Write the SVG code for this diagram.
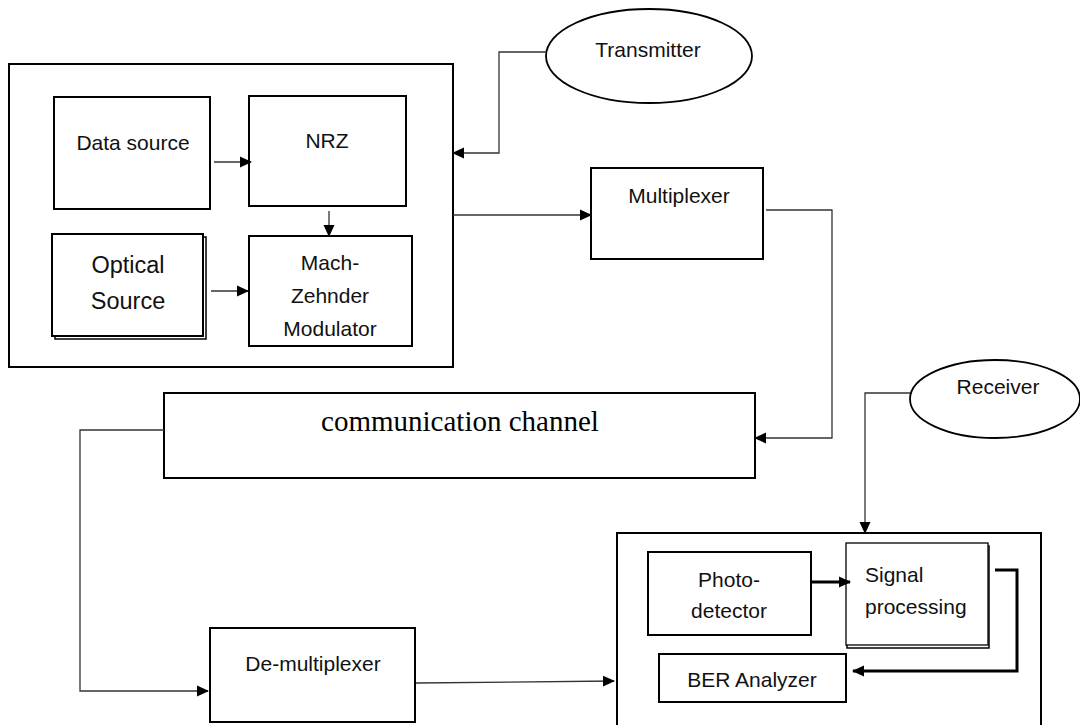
<svg xmlns="http://www.w3.org/2000/svg" width="1080" height="725" viewBox="0 0 1080 725">
<defs>
<marker id="arr" markerUnits="userSpaceOnUse" markerWidth="12" markerHeight="12" viewBox="0 0 12 12" refX="11" refY="6" orient="auto">
<path d="M0,0.5 L12,6 L0,11.5 Z" fill="#000"/>
</marker>
</defs>
<style>
.box{fill:#fff;stroke:#000;stroke-width:2}
.ell{fill:#fff;stroke:#000;stroke-width:1.8}
.con{fill:none;stroke:#333;stroke-width:1.3}
.thick{fill:none;stroke:#000;stroke-width:3}
.t{font-family:"Liberation Sans",Arial,sans-serif;font-size:21px;fill:#111;text-anchor:middle}
.big{font-size:23.5px}
.serif{font-family:"Liberation Serif","Times New Roman",serif;font-size:29px;fill:#000;text-anchor:middle}
</style>
<rect width="1080" height="725" fill="#fff"/>

<g id="transmitter-block">
<rect class="box" x="9" y="64" width="444" height="303"/>
</g>
<g id="data-source">
<rect class="box" x="54" y="97" width="156" height="112"/>
<text class="t" x="133" y="150">Data source</text>
</g>
<g id="nrz">
<rect class="box" x="249" y="96" width="157" height="110"/>
<text class="t" x="327" y="148">NRZ</text>
</g>
<g id="optical-source">
<rect fill="none" stroke="#000" stroke-width="1.5" x="55" y="237" width="151" height="102"/>
<rect class="box" x="52" y="234" width="151" height="102"/>
<text class="t big" x="128" y="273">Optical</text>
<text class="t big" x="128" y="309">Source</text>
</g>
<g id="mzm">
<rect class="box" x="249" y="236" width="163" height="110"/>
<text class="t" x="330" y="270">Mach-</text>
<text class="t" x="330" y="303">Zehnder</text>
<text class="t" x="330" y="336">Modulator</text>
</g>
<g id="transmitter">
<ellipse class="ell" cx="649" cy="56" rx="103" ry="47"/>
<text class="t" x="648" y="57">Transmitter</text>
</g>
<g id="multiplexer">
<rect class="box" x="591" y="168" width="172" height="91"/>
<text class="t" x="679" y="203">Multiplexer</text>
</g>
<g id="channel">
<rect class="box" x="164" y="393" width="591" height="85"/>
<text class="serif" x="460" y="431">communication channel</text>
</g>
<g id="receiver">
<ellipse class="ell" cx="995" cy="399" rx="85" ry="39"/>
<text class="t" x="998" y="394">Receiver</text>
</g>
<g id="demultiplexer">
<rect class="box" x="210" y="628" width="205" height="94"/>
<text class="t" x="313" y="671">De-multiplexer</text>
</g>
<g id="receiver-block">
<rect class="box" x="617" y="533" width="424" height="200"/>
</g>
<g id="photodetector">
<rect class="box" x="648" y="552" width="163" height="83"/>
<text class="t" x="729" y="587">Photo-</text>
<text class="t" x="729" y="618">detector</text>
</g>
<g id="signal-processing">
<rect fill="none" stroke="#000" stroke-width="1.5" x="847" y="546" width="142" height="102"/>
<rect fill="#fff" stroke="#000" stroke-width="1.3" x="846" y="543" width="142" height="102"/>
<text class="t" x="865" y="582" style="text-anchor:start">Signal</text>
<text class="t" x="865" y="614" style="text-anchor:start">processing</text>
</g>
<g id="ber-analyzer">
<rect class="box" x="659" y="654" width="187" height="48"/>
<text class="t" x="752" y="687">BER Analyzer</text>
</g>

<g id="connectors">
<path class="con" d="M214,162 L251,162" marker-end="url(#arr)"/>
<path class="con" d="M211,291 L248,291" marker-end="url(#arr)"/>
<path class="con" d="M329,211 L329,236" marker-end="url(#arr)"/>
<path class="con" d="M546,52 L499,52 L499,153 L453,153" marker-end="url(#arr)"/>
<path class="con" d="M453,215 L591,215" marker-end="url(#arr)"/>
<path class="con" d="M766,210 L832,210 L832,438 L755,438" marker-end="url(#arr)"/>
<path class="con" d="M164,430 L80,430 L80,691 L208,691" marker-end="url(#arr)"/>
<path class="con" d="M416,683 L614,681" marker-end="url(#arr)"/>
<path class="con" d="M910,393 L865,393 L865,533" marker-end="url(#arr)"/>
<path class="thick" d="M811,582 L850,582" marker-end="url(#arr)"/>
<path class="thick" d="M995,570 L1017,570 L1017,671 L853,671" marker-end="url(#arr)"/>
</g>
</svg>
